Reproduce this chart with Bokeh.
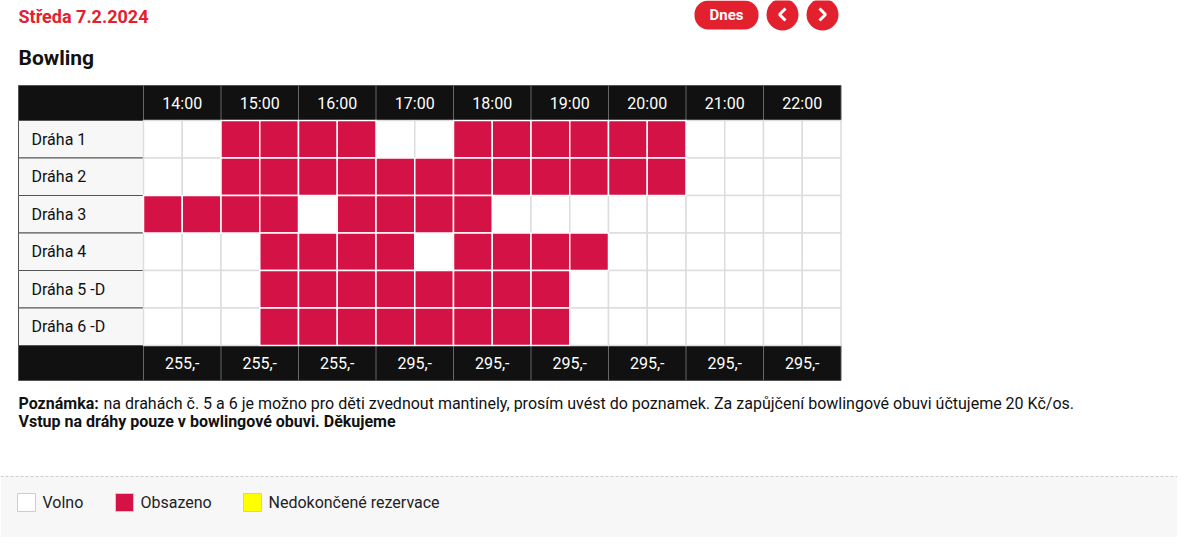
from bokeh.plotting import figure
from bokeh.models import Range1d
from bokeh.core.properties import value
from bokeh.embed import file_html
from bokeh.resources import INLINE

hours = ["14:00", "15:00", "16:00", "17:00", "18:00", "19:00", "20:00", "21:00", "22:00"]
prices = ["255,-", "255,-", "255,-", "295,-", "295,-", "295,-", "295,-", "295,-", "295,-"]
lanes = ["Dráha 1", "Dráha 2", "Dráha 3", "Dráha 4", "Dráha 5 -D", "Dráha 6 -D"]
# occupancy per half-hour slot, 14:00 .. 22:30 (1 = obsazeno)
occupied = [
    [0, 0, 1, 1, 1, 1, 0, 0, 1, 1, 1, 1, 1, 1, 0, 0, 0, 0],
    [0, 0, 1, 1, 1, 1, 1, 1, 1, 1, 1, 1, 1, 1, 0, 0, 0, 0],
    [1, 1, 1, 1, 0, 1, 1, 1, 1, 0, 0, 0, 0, 0, 0, 0, 0, 0],
    [0, 0, 0, 1, 1, 1, 1, 0, 1, 1, 1, 1, 0, 0, 0, 0, 0, 0],
    [0, 0, 0, 1, 1, 1, 1, 1, 1, 1, 1, 0, 0, 0, 0, 0, 0, 0],
    [0, 0, 0, 1, 1, 1, 1, 1, 1, 1, 1, 0, 0, 0, 0, 0, 0, 0],
]
legend_labels = ["Volno", "Obsazeno", "Nedokončené rezervace"]
legend_colors = ["#ffffff", "#d51245", "#ffff00"]

RED = "#d51245"
FONT = value("Roboto")

W, H = 1177, 537
p = figure(width=W, height=H, x_range=Range1d(0, W), y_range=Range1d(H, 0),
           output_backend="svg", toolbar_location=None, tools="",
           min_border=0, outline_line_color=None)
p.axis.visible = False
p.grid.visible = False

# grid geometry (page pixels)
x0, lab_w, col_w = 18, 125, 77.5
half = col_w / 2
head_top, head_h, row_h = 85, 35, 37.5
grid_left = x0 + lab_w
grid_right = grid_left + col_w * len(hours)
rows_top = head_top + head_h
foot_top = rows_top + row_h * len(lanes)

# header and footer bars
p.quad(left=[x0, x0], right=[grid_right] * 2, top=[head_top, foot_top],
       bottom=[rows_top, foot_top + head_h], fill_color="#111111", line_color="#555555")
sep_x = [grid_left + col_w * i for i in range(len(hours))]
p.segment(x0=sep_x * 2, x1=sep_x * 2, y0=[head_top] * len(sep_x) + [foot_top] * len(sep_x),
          y1=[rows_top] * len(sep_x) + [foot_top + head_h] * len(sep_x), line_color="#666666")
cx = [grid_left + col_w * (i + 0.5) for i in range(len(hours))]
p.text(x=cx, y=[head_top + head_h / 2] * len(hours), text=hours, text_font=FONT,
       text_font_size="16px", text_color="white", text_align="center", text_baseline="middle")
p.text(x=cx, y=[foot_top + head_h / 2] * len(prices), text=prices, text_font=FONT,
       text_font_size="16px", text_color="white", text_align="center", text_baseline="middle")

# lane labels
ry = [rows_top + row_h * j for j in range(len(lanes))]
p.quad(left=[x0] * len(lanes), right=[grid_left] * len(lanes), top=ry,
       bottom=[y + row_h for y in ry], fill_color="#f7f7f7", line_color="#555555")
p.text(x=[x0 + 13] * len(lanes), y=[y + row_h / 2 for y in ry], text=lanes, text_font=FONT,
       text_font_size="16px", text_color="#111111", text_baseline="middle")

# cells
for occ_flag, fill, line in [(0, "white", "#dddddd"), (1, RED, "white")]:
    L, R, T, B = [], [], [], []
    for j, row in enumerate(occupied):
        for i, o in enumerate(row):
            if o == occ_flag:
                L.append(grid_left + half * i)
                R.append(grid_left + half * (i + 1))
                T.append(rows_top + row_h * j)
                B.append(rows_top + row_h * (j + 1))
    p.quad(left=L, right=R, top=T, bottom=B, fill_color=fill, line_color=line, line_width=1.5)

# titles
p.text(x=[18], y=[16], text=["Středa 7.2.2024"], text_font=FONT, text_font_style="bold",
       text_font_size="18px", text_color="#e3202e", text_baseline="middle")
p.text(x=[18], y=[57], text=["Bowling"], text_font=FONT, text_font_style="bold",
       text_font_size="21px", text_color="#111111", text_baseline="middle")

# buttons
p.quad(left=[694], right=[758], top=[0], bottom=[29], fill_color="#e3202e", line_color=None,
       border_radius=14)
p.text(x=[726], y=[14], text=["Dnes"], text_font=FONT, text_font_style="bold",
       text_font_size="15px", text_color="white", text_align="center", text_baseline="middle")
p.circle(x=[782, 822], y=[14, 14], radius=16, fill_color="#e3202e", line_color=None)
p.multi_line(xs=[[785, 779, 785], [819, 825, 819]], ys=[[8, 14, 20], [8, 14, 20]],
             line_color="white", line_width=3)

# note
p.text(x=[18], y=[403], text=["Poznámka:"], text_font=FONT, text_font_style="bold",
       text_font_size="16px", text_color="#111111", text_baseline="middle")
p.text(x=[103], y=[403], text=["na drahách č. 5 a 6 je možno pro děti zvednout mantinely, prosím uvést do poznamek. Za zapůjčení bowlingové obuvi účtujeme 20 Kč/os."],
       text_font=FONT, text_font_size="16px", text_color="#111111", text_baseline="middle")
p.text(x=[18], y=[421], text=["Vstup na dráhy pouze v bowlingové obuvi. Děkujeme"], text_font=FONT,
       text_font_style="bold", text_font_size="16px", text_color="#111111", text_baseline="middle")

# legend area
p.quad(left=[0], right=[W], top=[476], bottom=[H], fill_color="#f7f7f7", line_color=None)
p.segment(x0=[0], x1=[W], y0=[476], y1=[476], line_color="#cccccc", line_dash="3 2")
lx = [17, 115, 243]
p.quad(left=lx, right=[x + 18 for x in lx], top=[493] * 3, bottom=[511] * 3,
       fill_color=legend_colors, line_color="#cccccc")
p.text(x=[x + 25 for x in lx], y=[502] * 3, text=legend_labels, text_font=FONT,
       text_font_size="16px", text_color="#222222", text_baseline="middle")

open("out.html", "w").write(file_html(p, INLINE))
